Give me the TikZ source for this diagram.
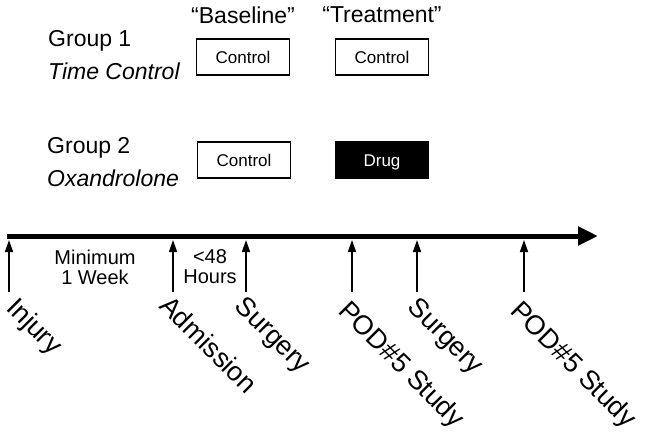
\documentclass[tikz,border=0pt]{standalone}
\usepackage{fontspec}
\setmainfont{Liberation Sans}
\usetikzlibrary{arrows.meta,positioning}

\begin{document}
\begin{tikzpicture}[
  x=1pt, y=-1pt,
  grouplbl/.style={anchor=west,align=left,inner sep=0,
    font=\fontsize{23}{33}\selectfont},
  header/.style={inner sep=0,font=\fontsize{23}{26}\selectfont},
  armbox/.style={draw=black,line width=1.8pt,minimum width=93pt,
    minimum height=36pt,inner sep=0,text height=12pt,text depth=0pt,
    font=\fontsize{17}{20}\selectfont},
  drugbox/.style={armbox,fill=black,text=white},
  span/.style={align=center,inner sep=0,font=\fontsize{20}{20}\selectfont},
  evlabel/.style={anchor=north west,rotate=-45,inner sep=0,
    font=\fontsize{27}{30}\selectfont},
  axis/.style={-{Triangle[length=20pt,width=18pt]},line width=5pt},
  evt/.style={-{Triangle[length=12pt,width=8pt]},line width=1.6pt}
]
\useasboundingbox (0,0) rectangle (647,434);

% group labels
\node[grouplbl] (g1) at (48,55) {Group 1\\\textit{Time Control}};
\node[grouplbl] (g2) at (47,162) {Group 2\\\textit{Oxandrolone}};

% column headers
\node[header] (base) at (243,15) {“Baseline”};
\node[header] (treat) at (382,15) {“Treatment”};

% arms
\node[armbox] (g1base) at (243,57) {Control};
\node[armbox] (g1treat) at (382,57) {Control};
\node[armbox] (g2base) at (244,160) {Control};
\node[drugbox] (g2treat) at (382,160) {Drug};

% time line
\coordinate (t0) at (7,236);
\coordinate (tend) at (598,236);
\draw[axis] (t0) -- (tend);

% events
\coordinate (injury foot) at (9,292);
\coordinate (injury top) at (9,240);
\coordinate (adm foot) at (173,292);
\coordinate (adm top) at (173,240);
\coordinate (surg foot) at (246,292);
\coordinate (surg top) at (246,240);
\coordinate (pod foot) at (352,292);
\coordinate (pod top) at (352,240);
\coordinate (surgb foot) at (417,292);
\coordinate (surgb top) at (417,240);
\coordinate (podb foot) at (524,292);
\coordinate (podb top) at (524,240);

\draw[evt] (injury foot) -- (injury top);
\draw[evt] (adm foot) -- (adm top);
\draw[evt] (surg foot) -- (surg top);
\draw[evt] (pod foot) -- (pod top);
\draw[evt] (surgb foot) -- (surgb top);
\draw[evt] (podb foot) -- (podb top);

\node[evlabel] (injury) at (19,295) {Injury};
\node[evlabel] (adm) at (172,293) {Admission};
\node[evlabel] (surg) at (247,294) {Surgery};
\node[evlabel] (pod) at (351,298) {POD\#5 Study};
\node[evlabel] (surgb) at (420,295) {Surgery};
\node[evlabel] (podb) at (523,298) {POD\#5 Study};

% intervals
\node[span] (week) at (95,267) {Minimum\\1 Week};
\node[span] (hours) at (210,267) {<48\\Hours};
\end{tikzpicture}
\end{document}
